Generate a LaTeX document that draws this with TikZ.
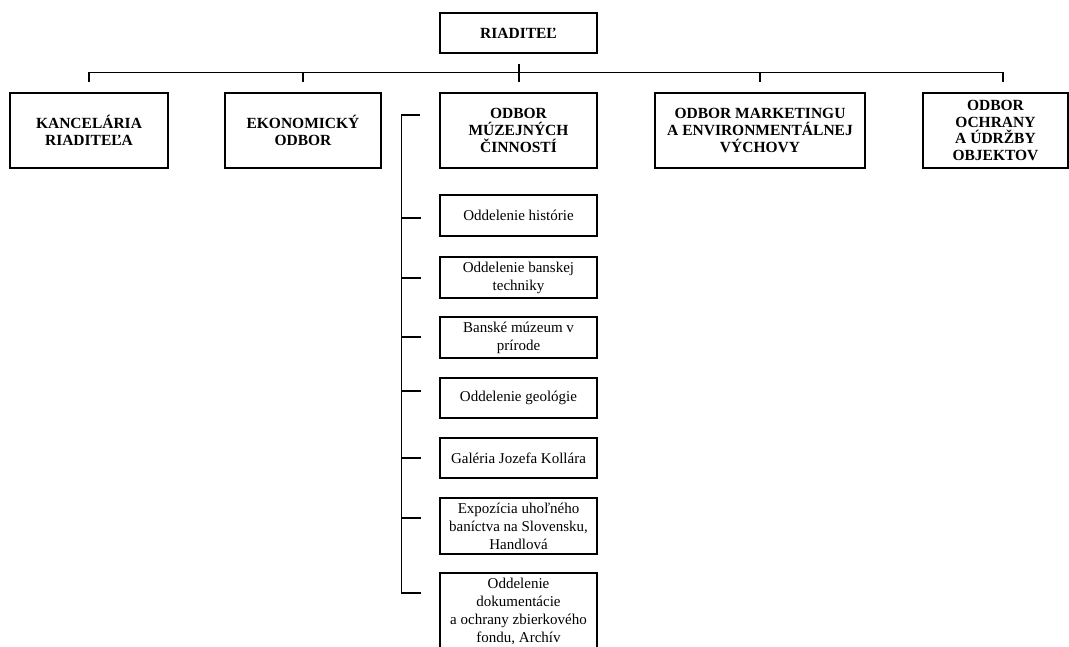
\documentclass[tikz,border=0pt]{standalone}
\usepackage{fontspec}
\setmainfont{Liberation Serif}
\usetikzlibrary{calc}

\tikzset{
  odbor/.style={draw, line width=1.1pt, minimum height=75pt, inner sep=2pt, align=center,
    font=\bfseries\fontsize{15.5}{16.7}\selectfont},
  oddel/.style={draw, line width=1.1pt, minimum width=157pt, inner sep=2pt, align=center,
    font=\fontsize{15}{18}\selectfont},
  spoj/.style={line width=1.1pt}
}

\begin{document}
\begin{tikzpicture}[x=1pt,y=-1pt]
\useasboundingbox (0,0) rectangle (1069,646);

\node[odbor, minimum width=157pt, minimum height=40pt] (riad) at (518.5,33) {RIADITEĽ};
\node[odbor, minimum width=158pt] (kanc) at (89,130.5) {KANCELÁRIA\\RIADITEĽA};
\node[odbor, minimum width=156pt] (ekon) at (303,130.5) {EKONOMICKÝ\\ODBOR};
\node[odbor, minimum width=157pt] (muz) at (518.5,130.5) {ODBOR\\MÚZEJNÝCH\\ČINNOSTÍ};
\node[odbor, minimum width=210pt] (mark) at (760,130.5) {ODBOR MARKETINGU\\A ENVIRONMENTÁLNEJ\\VÝCHOVY};
\node[odbor, minimum width=145pt] (ochr) at (995.5,130.5) {ODBOR\\OCHRANY\\A ÚDRŽBY\\OBJEKTOV};

\draw[spoj] ($(kanc.north)+(0,-20)$) -- ($(ochr.north)+(7.5,-20)$);
\foreach \n/\dx in {kanc/0, ekon/0, mark/0, ochr/7.5} {
 \draw[spoj] ($(\n.north)+(\dx,-20)$) --++(0,10);
}
\draw[spoj] ($(riad.south)+(0.5,10)$) -- ($(muz.north)+(0.5,-10)$);

\node[oddel, minimum height=41pt] (s1) at (518.5,215.5) {Oddelenie histórie};
\node[oddel, minimum height=41pt] (s2) at (518.5,277.5) {Oddelenie banskej\\techniky};
\node[oddel, minimum height=41pt] (s3) at (518.5,337.5) {Banské múzeum v\\prírode};
\node[oddel, minimum height=40pt] (s4) at (518.5,398) {Oddelenie geológie};
\node[oddel, minimum height=40pt] (s5) at (518.5,458) {Galéria Jozefa Kollára};
\node[oddel, minimum height=56pt] (s6) at (518.5,526) {Expozícia uhoľného\\baníctva na Slovensku,\\Handlová};
\node[oddel, minimum height=76pt] (s7) at (518.5,611) {Oddelenie\\dokumentácie\\a ochrany zbierkového\\fondu, Archív};

\coordinate (zvis) at ($(muz.west)+(-38,-15.5)$);
\draw[spoj] ($(zvis)+(19,0)$) -- (zvis) -- (zvis |- 0,593) --++(20,0);
\foreach \t in {218, 278, 337, 391, 458, 518} {
 \draw[spoj] (zvis |- 0,\t) --++(20,0);
}
\end{tikzpicture}
\end{document}
